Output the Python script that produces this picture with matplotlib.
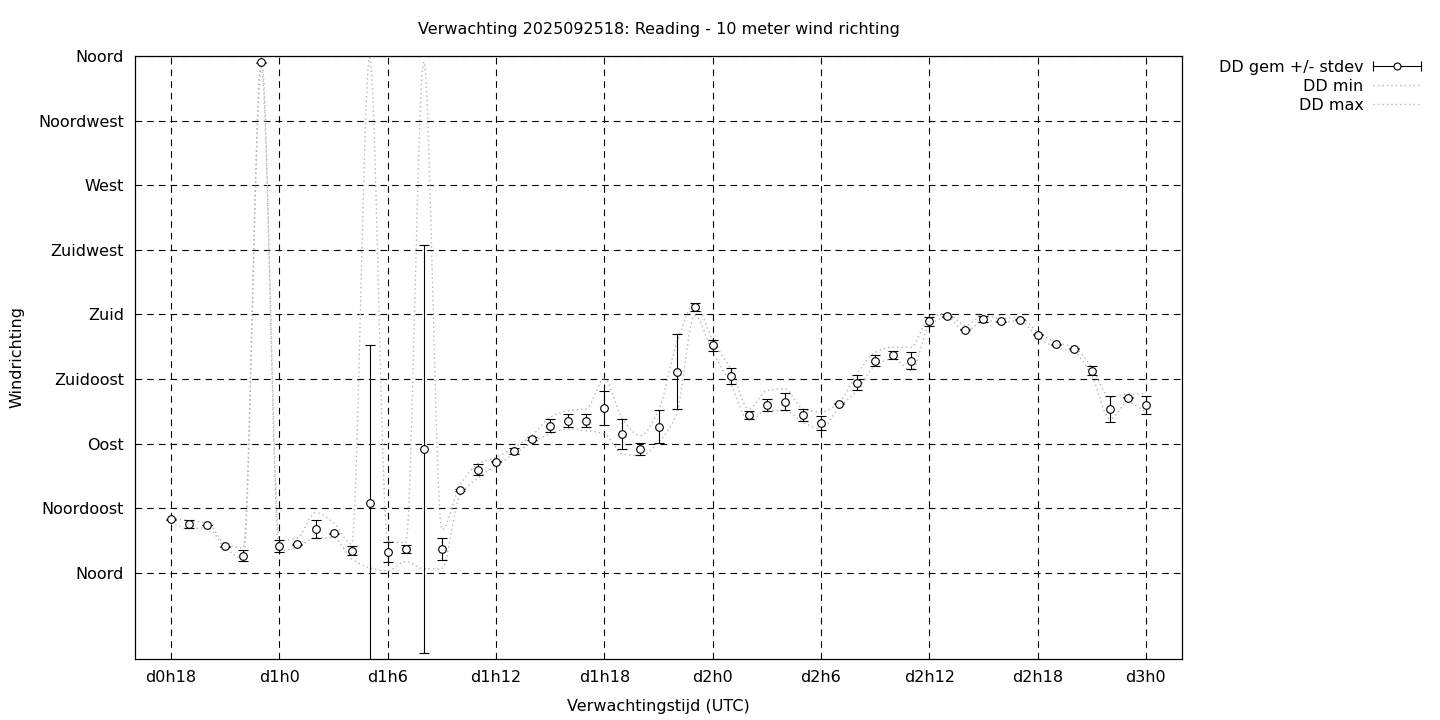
import numpy as np
import matplotlib
matplotlib.use("Agg")
import matplotlib.pyplot as plt
from matplotlib.lines import Line2D
from matplotlib.legend_handler import HandlerBase

# ================================
# DATA (forecast hour since run, wind direction in degrees)
# ================================
hours = list(range(18, 73))

dd_mean = [37.4, 34.0, 33.3, 18.6, 11.9, 355.5, 18.6, 20.0, 30.5, 27.7,
           15.3, 48.6, 14.6, 16.5, 86.3, 16.5, 57.7, 71.9, 77.4, 84.9,
           93.3, 102.6, 106.0, 106.0, 114.9, 96.8, 86.3, 101.9, 140.2, 185.1,
           158.4, 137.4, 110.2, 117.0, 119.3, 110.0, 104.4, 117.7, 132.3, 147.9,
           151.9, 147.9, 175.1, 178.6, 169.3, 177.0, 175.1, 176.3, 166.0, 159.1,
           156.1, 140.9, 114.2, 121.9, 117.0]

dd_stdev = [0.3, 2.9, 0.3, 0.3, 3.7, 0.3, 4.0, 0.3, 6.0, 0.3,
            3.1, 110.3, 7.2, 3.0, 142.3, 7.6, 1.0, 3.8, 0.3, 2.0,
            1.0, 4.3, 4.4, 4.7, 11.7, 10.5, 4.0, 11.2, 25.9, 2.6,
            3.8, 5.6, 2.7, 4.0, 5.9, 4.4, 4.7, 0.3, 5.2, 3.8,
            2.7, 5.6, 2.9, 0.3, 0.3, 2.1, 0.3, 0.3, 0.3, 0.3,
            0.3, 3.1, 9.3, 0.3, 6.2]

dd_min = [34.9, 30.7, 31.4, 17.4, 9.8, 352.0, 15.3, 18.0, 24.4, 24.4,
          9.8, 3.5, 1.4, 7.9, 2.8, 3.0, 54.0, 66.0, 74.7, 82.8,
          90.9, 96.8, 100.3, 99.1, 96.8, 82.8, 81.6, 90.9, 110.7, 179.3,
          153.7, 131.7, 106.0, 113.0, 113.0, 104.9, 100.3, 115.3, 127.0, 144.4,
          149.1, 140.9, 172.3, 178.1, 167.7, 175.8, 174.4, 175.8, 164.2, 157.2,
          153.7, 137.4, 107.2, 118.8, 111.8]

dd_max = [38.4, 36.3, 34.9, 20.2, 17.4, 359.0, 22.3, 24.4, 41.9, 34.9,
          20.2, 359.0, 22.3, 21.0, 356.0, 30.0, 61.0, 76.0, 80.5, 87.4,
          95.8, 108.4, 113.0, 114.2, 135.1, 107.2, 95.6, 113.0, 159.6, 187.5,
          161.9, 142.1, 114.2, 127.0, 128.2, 114.2, 112.0, 118.8, 138.6, 153.7,
          157.2, 157.2, 178.1, 180.5, 172.3, 179.3, 177.0, 178.1, 167.7, 160.7,
          157.2, 143.2, 122.3, 124.7, 124.7]

ytick_vals = [0, 45, 90, 135, 180, 225, 270, 315, 360]
ytick_labels = ["Noord", "Noordoost", "Oost", "Zuidoost", "Zuid",
                "Zuidwest", "West", "Noordwest", "Noord"]
xtick_vals = [18, 24, 30, 36, 42, 48, 54, 60, 66, 72]
xtick_labels = ["d0h18", "d1h0", "d1h6", "d1h12", "d1h18",
                "d2h0", "d2h6", "d2h12", "d2h18", "d3h0"]


# monotone cubic smoothing like gnuplot "smooth mcsplines"
def mcspline(x, y, n=20):
    x = np.asarray(x, float)
    y = np.asarray(y, float)
    h = np.diff(x)
    d = np.diff(y) / h
    m = np.zeros_like(y)
    m[0] = d[0]
    m[-1] = d[-1]
    for k in range(1, len(y) - 1):
        if d[k - 1] * d[k] > 0:
            w1 = 2 * h[k] + h[k - 1]
            w2 = h[k] + 2 * h[k - 1]
            m[k] = (w1 + w2) / (w1 / d[k - 1] + w2 / d[k])
    xs, ys = [], []
    for k in range(len(h)):
        t = np.linspace(0, 1, n, endpoint=False)
        h00 = 2 * t**3 - 3 * t**2 + 1
        h10 = t**3 - 2 * t**2 + t
        h01 = -2 * t**3 + 3 * t**2
        h11 = t**3 - t**2
        xs.append(x[k] + t * h[k])
        ys.append(h00 * y[k] + h10 * h[k] * m[k] + h01 * y[k + 1] + h11 * h[k] * m[k + 1])
    xs.append([x[-1]])
    ys.append([y[-1]])
    return np.concatenate(xs), np.concatenate(ys)


class ErrHandler(HandlerBase):
    def create_artists(self, legend, orig_handle, xdescent, ydescent,
                       width, height, fontsize, trans):
        y = (height - ydescent) / 2
        x0, x1 = -xdescent, width - xdescent
        line = Line2D([x0, x1], [y, y], color="black", lw=0.8)
        caps = Line2D([x0, x1], [y, y], ls="none", marker="|", ms=7,
                      mew=0.8, color="black")
        dot = Line2D([(x0 + x1) / 2], [y], ls="none", marker="o", ms=5,
                     mfc="white", mec="black", mew=0.8)
        for a in (line, caps, dot):
            a.set_transform(trans)
        return [line, caps, dot]


plt.rcParams["font.family"] = "DejaVu Sans"
plt.rcParams["font.size"] = 11.5

fig = plt.figure(figsize=(14.4, 7.2), dpi=100)
ax = fig.add_axes([135 / 1440, 61 / 720, 1047 / 1440, 603 / 720])

dots = (0, (1, 2.2))
sx, sy = mcspline(hours, dd_min)
min_line, = ax.plot(sx, sy, color="#b4b4b4", lw=1.0, ls=dots, zorder=2)
sx, sy = mcspline(hours, dd_max)
max_line, = ax.plot(sx, sy, color="#b4b4b4", lw=1.0, ls=dots, zorder=2)

ax.errorbar(hours, dd_mean, yerr=dd_stdev, fmt="o", color="black",
            ecolor="black", elinewidth=0.8, capsize=3.3, capthick=0.8,
            ms=5.5, mfc="white", mec="black", mew=0.8, zorder=3)

ax.set_xlim(16, 74)
ax.set_ylim(-60, 360)
ax.set_xticks(xtick_vals)
ax.set_xticklabels(xtick_labels)
ax.set_yticks(ytick_vals)
ax.set_yticklabels(ytick_labels)
ax.tick_params(direction="in", length=0, pad=8)
ax.grid(True, color="black", lw=0.8, ls=(0, (6, 4.5)))
ax.set_axisbelow(True)
for sp in ax.spines.values():
    sp.set_linewidth(0.9)

ax.set_title("Verwachting 2025092518: Reading - 10 meter wind richting",
             fontsize=11.5, pad=15.5)
ax.set_xlabel("Verwachtingstijd (UTC)")
ax.set_ylabel("Windrichting")
ax.xaxis.set_label_coords(0.5, -0.066)
ax.yaxis.set_label_coords(-0.106, 0.5)

err_handle = Line2D([], [])
ax.legend([err_handle, min_line, max_line],
          ["DD gem +/- stdev", "DD min", "DD max"],
          handler_map={err_handle: ErrHandler()},
          loc="upper right", bbox_to_anchor=(1421 / 1440, 660 / 720),
          bbox_transform=fig.transFigure, frameon=False, markerfirst=False,
          handlelength=3.0, handletextpad=0.6, labelspacing=0.25,
          borderpad=0, borderaxespad=0, fontsize=11.5)

plt.savefig("out.png", dpi=100)
plt.close()
